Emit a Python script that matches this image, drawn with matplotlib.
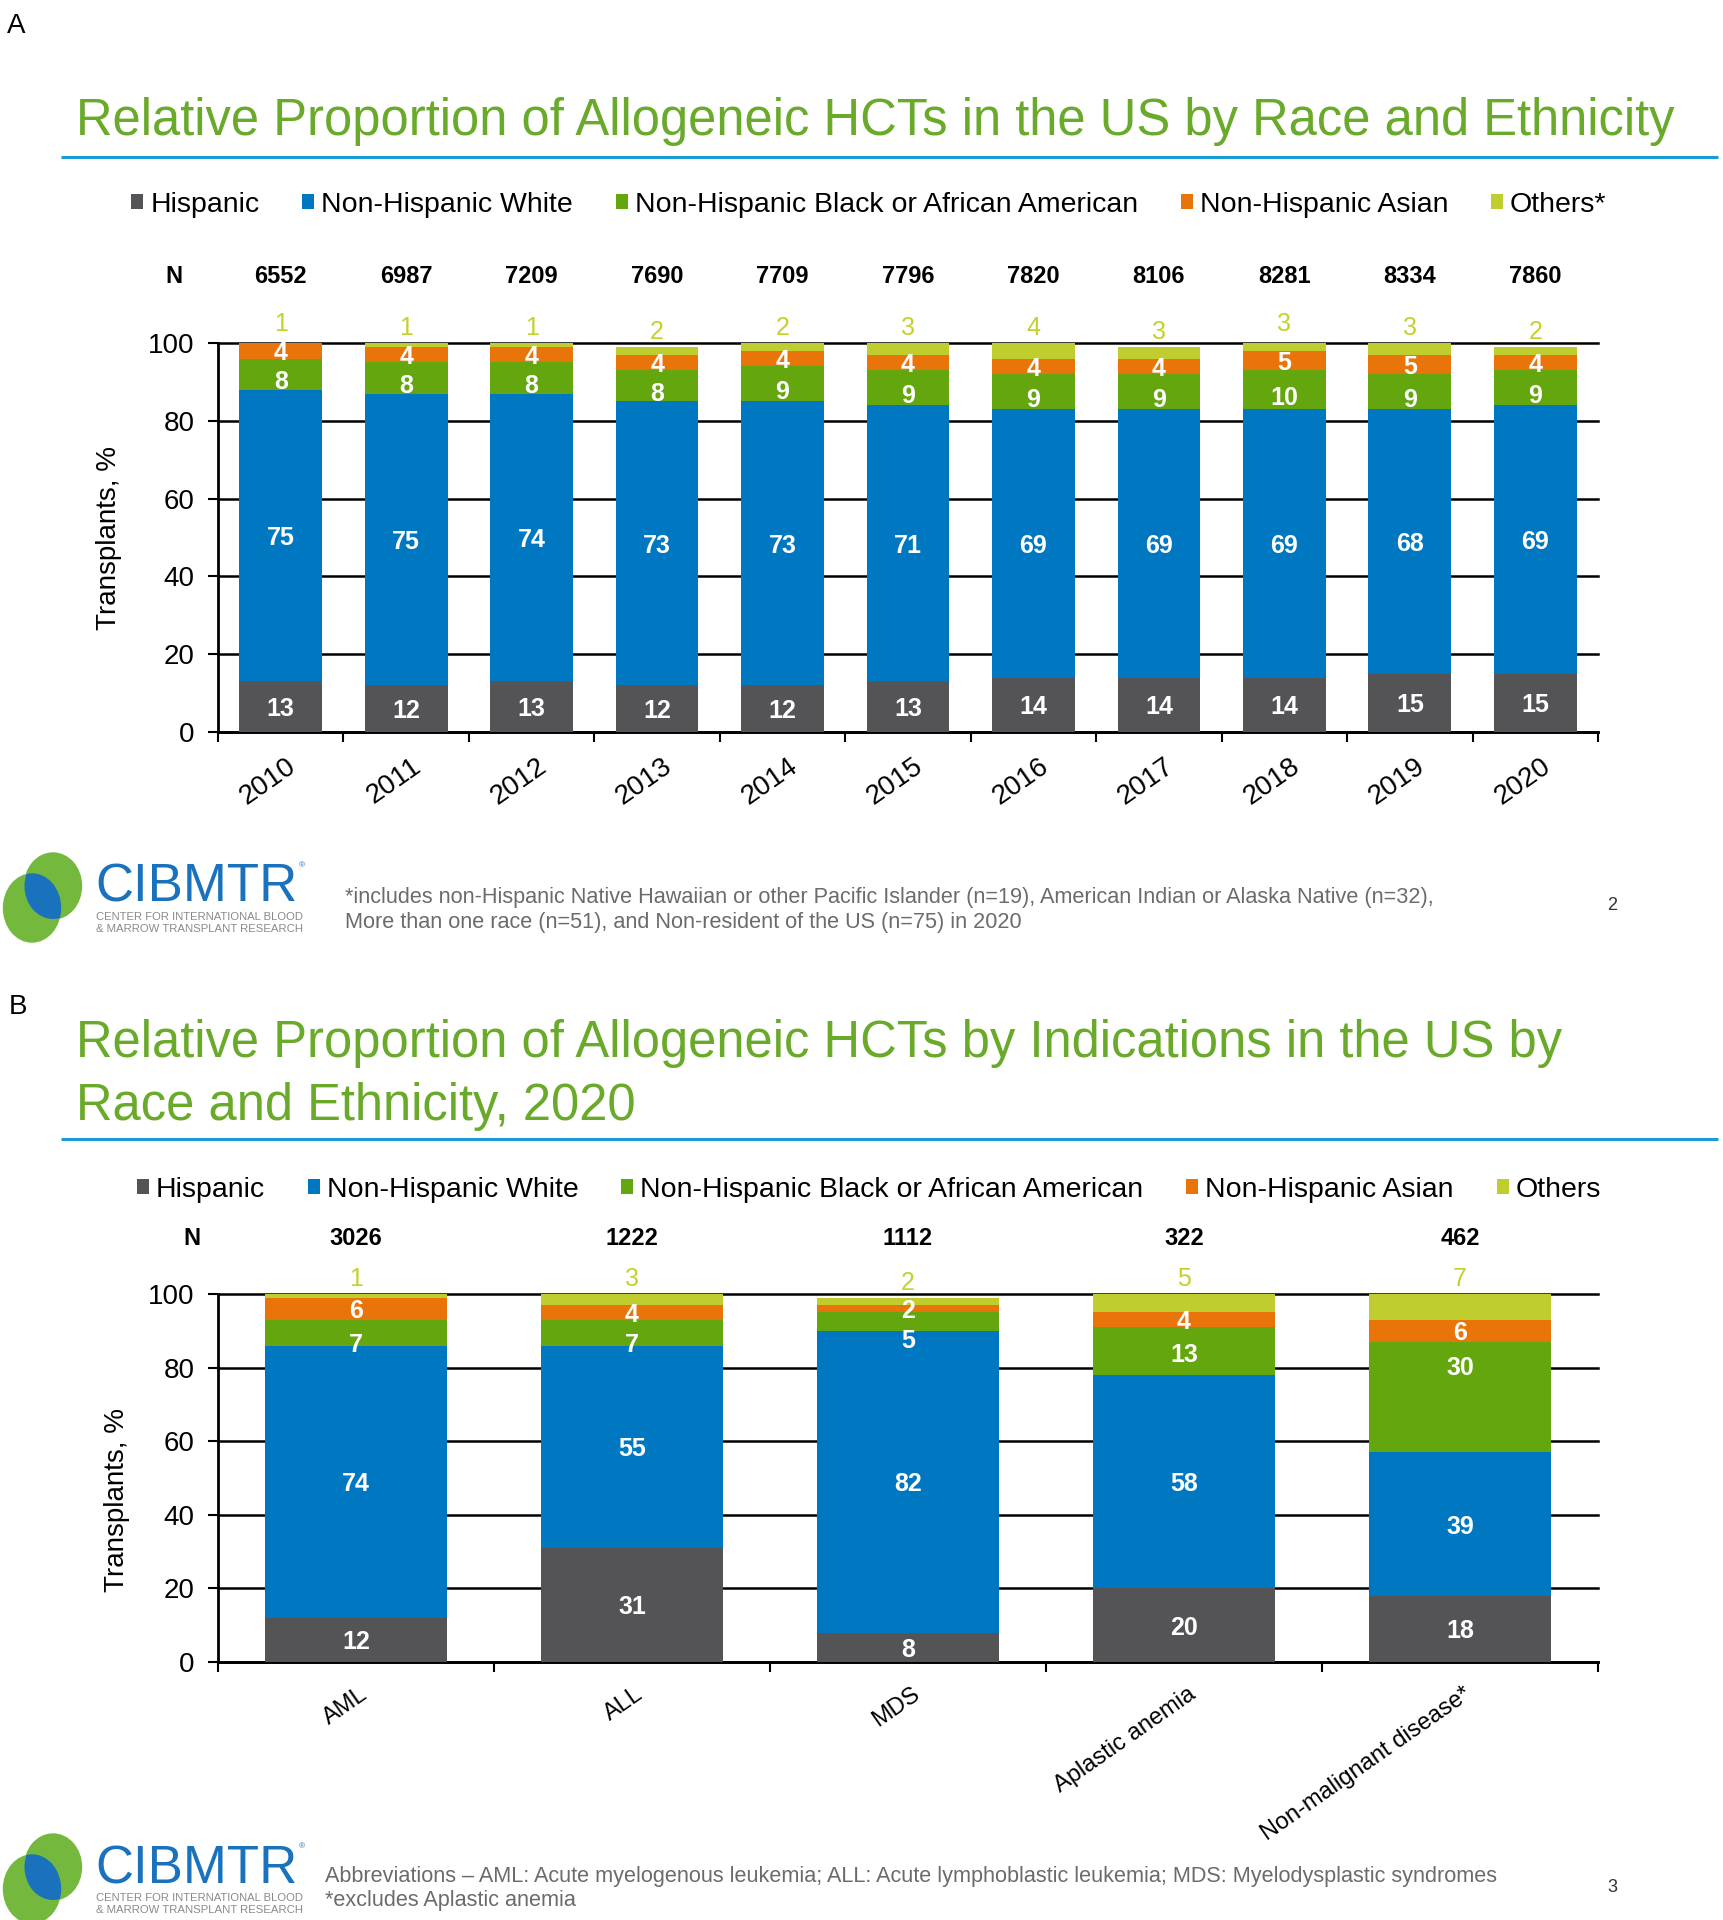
import numpy as np
import matplotlib
matplotlib.use("Agg")
import matplotlib.pyplot as plt
import matplotlib.transforms as mtransforms
from matplotlib.patches import Ellipse, Patch

plt.rcParams['font.family'] = ['Liberation Sans', 'DejaVu Sans']

# ---------------- data ----------------
series_names_a = ['Hispanic', 'Non-Hispanic White', 'Non-Hispanic Black or African American',
                  'Non-Hispanic Asian', 'Others*']
series_names_b = ['Hispanic', 'Non-Hispanic White', 'Non-Hispanic Black or African American',
                  'Non-Hispanic Asian', 'Others']

years = ['2010', '2011', '2012', '2013', '2014', '2015', '2016', '2017', '2018', '2019', '2020']
n_a = [6552, 6987, 7209, 7690, 7709, 7796, 7820, 8106, 8281, 8334, 7860]
hispanic_a = [13, 12, 13, 12, 12, 13, 14, 14, 14, 15, 15]
white_a = [75, 75, 74, 73, 73, 71, 69, 69, 69, 68, 69]
black_a = [8, 8, 8, 8, 9, 9, 9, 9, 10, 9, 9]
asian_a = [4, 4, 4, 4, 4, 4, 4, 4, 5, 5, 4]
others_a = [1, 1, 1, 2, 2, 3, 4, 3, 3, 3, 2]

indications = ['AML', 'ALL', 'MDS', 'Aplastic anemia', 'Non-malignant disease*']
n_b = [3026, 1222, 1112, 322, 462]
hispanic_b = [12, 31, 8, 20, 18]
white_b = [74, 55, 82, 58, 39]
black_b = [7, 7, 5, 13, 30]
asian_b = [6, 4, 2, 4, 6]
others_b = [1, 3, 2, 5, 7]

# label placement nudges (style only, in % units) for the black/African American labels
nudge_a = {2: [-1.5] * len(years)}
nudge_b = {2: [-2.8, -2.8, -4.5, -0.3, 8.7]}

colors = ['#545456', '#0077c1', '#63a60d', '#e9740a', '#bfcd2e']
others_label_color = '#c3d12c'

W, H = 1723, 1920
fig = plt.figure(figsize=(W / 100, H / 100), dpi=100)
fig.patch.set_facecolor('white')

# overlay axes in pixel coordinates for decorations
ov = fig.add_axes([0, 0, 1, 1], zorder=0)
ov.set_xlim(0, W)
ov.set_ylim(H, 0)
ov.axis('off')
ov.patch.set_alpha(0)

renderer = fig.canvas.get_renderer()


def fit_text(x, y, s, target_w, size0=20, **kw):
    t = ov.text(x, y, s, fontsize=size0, **kw)
    w = t.get_window_extent(renderer).width
    t.set_fontsize(size0 * target_w / w)
    return t


def px_axes(left, top, right, bottom):
    return fig.add_axes([left / W, 1 - bottom / H, (right - left) / W, (bottom - top) / H], zorder=2)


def draw_panel(ax, cats, data, ns, nudges, n_x_axes, n_y_axes, label_size, xlab_size, xlab_dx):
    x = np.arange(len(cats))
    bottom = np.zeros(len(cats))
    for k, vals in enumerate(data):
        vals = np.array(vals, dtype=float)
        ax.bar(x, vals, width=0.66, bottom=bottom, color=colors[k], zorder=3, linewidth=0)
        nud = nudges.get(k, [0] * len(cats))
        for xi, b, v, dn in zip(x, bottom, vals, nud):
            if k < 4:
                ax.text(xi, b + v / 2 + dn, f'{int(v)}', ha='center', va='center_baseline',
                        color='white', fontsize=label_size, fontweight='bold', zorder=5)
            else:
                tr = mtransforms.offset_copy(ax.transData, fig=fig, x=0, y=3, units='dots')
                ax.text(xi, min(b + v, 101), f'{int(v)}', ha='center', va='bottom',
                        color=others_label_color, fontsize=label_size, transform=tr,
                        clip_on=False, zorder=5)
        bottom += vals
    ax.set_xlim(-0.5, len(cats) - 0.5)
    ax.set_ylim(0, 100)
    ax.set_yticks(np.arange(0, 101, 20))
    ax.yaxis.grid(True, color='black', linewidth=1.8, zorder=0)
    for gl in ax.get_ygridlines():
        gl.set_clip_on(False)
    ax.set_axisbelow(True)
    for s in ['top', 'right']:
        ax.spines[s].set_visible(False)
    for s in ['left', 'bottom']:
        ax.spines[s].set_linewidth(2)
        ax.spines[s].set_color('black')
    ax.tick_params(axis='y', length=7, width=1.5, pad=10, labelsize=20, direction='out')
    ax.set_xticks(x)
    ax.set_xticklabels(cats, rotation=35, ha='right', rotation_mode='anchor', fontsize=xlab_size)
    ax.tick_params(axis='x', which='major', length=0, pad=15)
    ax.set_xticks(np.arange(-0.5, len(cats), 1), minor=True)
    ax.tick_params(axis='x', which='minor', length=7, width=1.5, direction='out')
    shift = mtransforms.ScaledTranslation(xlab_dx / 100, 0, fig.dpi_scale_trans)
    for lbl in ax.get_xticklabels():
        lbl.set_transform(lbl.get_transform() + shift)
    # N row
    trN = mtransforms.blended_transform_factory(ax.transData, ax.transAxes)
    ax.text(n_x_axes, n_y_axes, 'N', transform=ax.transAxes, ha='center', va='center',
            fontsize=17, fontweight='bold')
    for xi, n in zip(x, ns):
        ax.text(xi, n_y_axes, f'{n}', transform=trN, ha='center', va='center',
                fontsize=17, fontweight='bold')


def draw_logo(y_off):
    green = '#74b83e'
    blue = '#1a72bd'
    e1 = Ellipse((53, 886 + y_off), 57, 66, color=green, zorder=1)
    e2 = Ellipse((32, 908 + y_off), 57, 68, color=green, zorder=1)
    ov.add_patch(e1)
    ov.add_patch(e2)
    lens = Ellipse((32, 908 + y_off), 57, 68, color=blue, zorder=2)
    ov.add_patch(lens)
    lens.set_clip_path(e1)
    fit_text(95, 902 + y_off, 'CIBMTR', 202, size0=38, color=blue, va='baseline')
    ov.text(299, 866 + y_off, '®', fontsize=6, color=blue, va='center')
    fit_text(96, 920 + y_off, 'CENTER FOR INTERNATIONAL BLOOD', 207, size0=7,
             color='#8a8a8a', va='baseline')
    fit_text(96, 932 + y_off, '& MARROW TRANSPLANT RESEARCH', 207, size0=7,
             color='#8a8a8a', va='baseline')


legend_kw = dict(loc='center', ncol=5, frameon=False, fontsize=20.5, handlelength=0.42,
                 handleheight=0.42, handletextpad=0.25, columnspacing=1.5, borderaxespad=0)

# ---------------- Panel A ----------------
ov.text(7, 33, 'A', fontsize=20, va='baseline', color='black')
tA = fit_text(76, 135, 'Relative Proportion of Allogeneic HCTs in the US by Race and Ethnicity',
              1602, size0=32, color='#6aaa2a', va='baseline')
title_size = tA.get_fontsize()
ov.plot([61, 1718], [157, 157], color='#1c9ad6', linewidth=2.2, solid_capstyle='butt')

axA = px_axes(218, 343, 1598, 732)
draw_panel(axA, years, [hispanic_a, white_a, black_a, asian_a, others_a], n_a, nudge_a,
           -0.032, 1.172, 18, 20, 5)
axA.set_ylabel('Transplants, %', fontsize=20)
axA.yaxis.set_label_coords(-0.0695, 0.5)

handles = [Patch(facecolor=c, edgecolor='none') for c in colors]
fig.legend(handles, series_names_a, bbox_to_anchor=(869 / W, 1 - 205 / H), **legend_kw)

draw_logo(0)
fA1 = fit_text(345, 903, '*includes non-Hispanic Native Hawaiian or other Pacific Islander (n=19), '
               'American Indian or Alaska Native (n=32),', 1091, size0=12, color='#6b6b6b',
               va='baseline')
ov.text(345, 928, 'More than one race (n=51), and Non-resident of the US (n=75) in 2020',
        fontsize=fA1.get_fontsize(), color='#6b6b6b', va='baseline')
ov.text(1612, 906, '2', fontsize=13, color='#333333', ha='center', va='center')

# ---------------- Panel B ----------------
ov.text(9, 1014, 'B', fontsize=20, va='baseline', color='black')
ov.text(76, 1057, 'Relative Proportion of Allogeneic HCTs by Indications in the US by',
        fontsize=title_size, color='#6aaa2a', va='baseline')
ov.text(76, 1120, 'Race and Ethnicity, 2020', fontsize=title_size, color='#6aaa2a', va='baseline')
ov.plot([61, 1718], [1139, 1139], color='#1c9ad6', linewidth=2.2, solid_capstyle='butt')

axB = px_axes(218, 1294, 1598, 1662)
draw_panel(axB, indications, [hispanic_b, white_b, black_b, asian_b, others_b], n_b, nudge_b,
           -0.019, 1.152, 18, 17, 3)
axB.set_ylabel('Transplants, %', fontsize=20)
axB.yaxis.set_label_coords(-0.0635, 0.44)

fig.legend(handles, series_names_b, bbox_to_anchor=(869 / W, 1 - 1190 / H), **legend_kw)

draw_logo(981)
fB1 = fit_text(325, 1882, 'Abbreviations \u2013 AML: Acute myelogenous leukemia; ALL: Acute '
               'lymphoblastic leukemia; MDS: Myelodysplastic syndromes', 1176, size0=12,
               color='#6b6b6b', va='baseline')
ov.text(325, 1906, '*excludes Aplastic anemia', fontsize=fB1.get_fontsize(), color='#6b6b6b',
        va='baseline')
ov.text(1612, 1887, '3', fontsize=13, color='#333333', ha='center', va='center')

fig.savefig('out.png', dpi=100, facecolor='white')
